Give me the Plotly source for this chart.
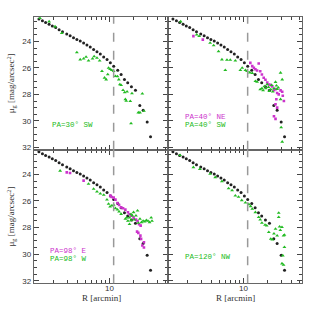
import math
import plotly.graph_objects as go

# ---------------- data (R in arcmin, mu in mag/arcsec^2) ----------------
ref_R = [1.33, 1.47, 1.61, 1.78, 1.95, 2.15, 2.37, 2.61, 2.95, 3.25, 3.58, 3.94, 4.34, 4.78,
         5.26, 5.78, 6.37, 7.01, 7.71, 8.49, 9.35, 10.28, 11.32, 12.7, 14.0, 15.4, 16.9,
         18.8, 21.1, 23.9, 26.3, 29.5, 32.5]
ref_mu = [22.3, 22.45, 22.58, 22.7, 22.83, 22.95, 23.13, 23.27, 23.45, 23.57, 23.73, 23.85,
          23.97, 24.12, 24.27, 24.42, 24.62, 24.78, 24.95, 25.17, 25.37, 25.62, 25.88, 26.18,
          26.5, 26.88, 27.12, 27.42, 27.68, 28.83, 29.2, 30.08, 31.2]

pa30sw_R = [1.37, 1.78, 2.11, 2.56, 3.94, 4.34, 4.78, 5.13, 5.5, 6.17, 6.46, 7.01, 7.57, 8.09,
            8.71, 9.12, 9.55, 9.77, 10.2, 10.7, 11.3, 11.9, 12.6, 13.1, 13.5, 14.0, 14.8, 15.5,
            16.6, 15.8, 16.2, 18.2, 19.1, 18.6, 22.9, 24.0, 25.7, 26.9]
pa30sw_mu = [22.25, 22.5, 22.88, 23.37, 24.83, 25.37, 25.3, 25.17, 25.45, 25.3, 25.13, 25.25,
             25.45, 26.25, 26.75, 26.88, 26.5, 26.0, 26.1, 26.18, 26.25, 26.63, 26.65, 26.88,
             27.25, 27.3, 27.68, 27.85, 27.8, 28.37, 28.5, 28.52, 27.93, 30.2, 29.37, 29.37,
             27.95, 29.25]

pa40sw_R = [1.66, 2.63, 2.82, 3.86, 4.27, 4.91, 5.41, 5.96, 6.25, 6.87, 7.94, 9.17, 9.66, 10.6,
            11.1, 12.0, 12.9, 14.1, 14.8, 16.2, 17.0, 18.2, 19.8, 21.9, 24.0, 25.1, 26.3, 29.0,
            30.4, 29.0, 29.5, 30.4, 17.6, 19.0, 20.5, 22.5, 23.2, 21.0, 25.8, 27.2]
pa40sw_mu = [22.5, 23.5, 23.6, 24.12, 24.3, 24.75, 25.37, 26.18, 25.4, 25.4, 25.45, 26.18, 26.0,
             26.18, 26.25, 26.35, 26.4, 27.0, 27.05, 27.63, 27.55, 27.4, 27.25, 27.63, 27.55,
             27.07, 27.6, 26.37, 26.88, 28.37, 30.5, 31.58, 27.7, 27.55, 27.45, 27.3, 27.8,
             27.75, 27.35, 27.5]

pa40ne_R = [2.39, 3.13, 12.2, 12.9, 13.5, 14.1, 14.8, 15.5, 16.2, 17.0, 17.9, 18.8, 19.8, 20.9,
            21.9, 22.9, 24.0, 25.1, 26.3, 27.5, 29.0, 30.4, 30.9, 31.9, 25.7, 25.1, 26.3, 24.0,
            25.1]
pa40ne_mu = [23.6, 23.87, 25.62, 25.87, 26.0, 26.1, 26.2, 25.67, 26.25, 26.5, 26.75, 26.9, 27.1,
             27.25, 27.3, 27.4, 27.68, 27.6, 27.9, 28.0, 27.7, 27.8, 28.1, 28.5, 28.37, 28.75,
             29.0, 29.65, 29.85]

pa98w_R = [2.44, 5.5, 6.37, 7.01, 7.71, 8.51, 9.33, 9.77, 10.2, 10.7, 11.3, 11.9, 12.6, 13.2,
           14.0, 15.8, 16.4, 17.0, 17.8, 18.6, 19.3, 20.0, 21.4, 22.4, 24.0, 25.1, 26.3, 27.5,
           28.8, 30.2, 31.6, 33.1, 33.9, 22.9, 20.4, 18.6, 17.8]
pa98w_mu = [23.73, 24.72, 25.1, 25.3, 25.45, 25.55, 25.9, 26.22, 26.43, 26.35, 26.3, 26.55,
            26.65, 26.8, 26.98, 27.35, 27.25, 27.5, 27.25, 27.0, 27.1, 26.85, 27.1, 26.73, 27.35,
            27.6, 27.5, 27.55, 27.45, 27.5, 27.6, 27.25, 27.5, 27.65, 27.4, 27.45, 27.75]

pa98e_R = [2.95, 3.24, 4.78, 10.3, 10.7, 11.3, 11.9, 12.6, 13.2, 14.0, 14.8, 15.8, 17.0, 17.8,
           18.8, 20.0, 21.4, 22.4, 23.4, 24.5, 22.1, 22.9, 24.3, 24.8, 25.7, 26.9, 26.9]
pa98e_mu = [23.85, 23.9, 24.47, 25.6, 25.7, 25.75, 25.9, 26.15, 26.3, 26.48, 26.55, 26.65, 26.85,
            27.0, 27.1, 27.25, 27.4, 27.5, 27.75, 27.85, 28.3, 28.4, 28.6, 28.85, 29.35, 29.5,
            29.1]

pa120nw_R = [1.63, 2.39, 2.88, 3.86, 4.47, 5.41, 6.55, 7.24, 7.94, 8.71, 9.55, 10.6, 11.7, 12.3,
             12.9, 14.1, 15.5, 16.2, 17.0, 18.6, 19.5, 20.7, 21.9, 22.9, 24.0, 25.1, 26.3, 27.5,
             28.2, 30.2, 31.6, 32.4, 32.4, 30.9, 30.2, 31.6, 27.5, 28.8]
pa120nw_mu = [22.55, 23.47, 23.6, 23.97, 24.22, 24.52, 25.05, 25.2, 25.6, 25.7, 25.95, 26.12,
              26.25, 26.4, 26.6, 26.85, 27.22, 27.4, 27.65, 27.8, 27.85, 28.35, 28.85, 28.9,
              28.45, 28.1, 28.6, 27.22, 27.93, 27.97, 28.6, 28.55, 29.47, 30.1, 30.7, 30.8,
              26.9, 28.2]

r_break = 11.3
y_ticks = [24, 26, 28, 30, 32]
x_ticks = [10]
x_tick_text = ["10"]
x_minor = [2, 3, 4, 5, 6, 7, 8, 9, 20, 30, 40, 50]

labels = {
    "tl": [("PA=30° SW", "#22bb22")],
    "tr": [("PA=40° NE", "#cc33cc"), ("PA=40° SW", "#22bb22")],
    "bl": [("PA=98° E", "#cc33cc"), ("PA=98° W", "#22bb22")],
    "br": [("PA=120° NW", "#22bb22")],
}

# ---------------- layout geometry ----------------
W = H = 319
xl = [34 / W, 168 / W]
xr = [168 / W, 302 / W]
yt = [1 - 150.7 / H, 1 - 17 / H]
yb = [1 - 285 / H, 1 - 150.7 / H]

GREEN = "#22bb22"
MAG = "#cc33cc"
BLACK = "#222222"

fig = go.Figure()

panels = {
    "tl": ("x3", "y3", [(pa30sw_R, pa30sw_mu, GREEN, "triangle-up")]),
    "tr": ("x4", "y4", [(pa40ne_R, pa40ne_mu, MAG, "square"),
                        (pa40sw_R, pa40sw_mu, GREEN, "triangle-up")]),
    "bl": ("x", "y", [(pa98e_R, pa98e_mu, MAG, "square"),
                      (pa98w_R, pa98w_mu, GREEN, "triangle-up")]),
    "br": ("x2", "y2", [(pa120nw_R, pa120nw_mu, GREEN, "triangle-up")]),
}

for key, (xa, ya, series) in panels.items():
    fig.add_trace(go.Scatter(x=ref_R, y=ref_mu, mode="markers", xaxis=xa, yaxis=ya,
                             marker=dict(color=BLACK, size=3, symbol="circle"),
                             showlegend=False, hoverinfo="skip"))
    for R, mu, col, sym in series:
        fig.add_trace(go.Scatter(x=R, y=mu, mode="markers", xaxis=xa, yaxis=ya,
                                 marker=dict(color=col, size=2.6 if sym == "square" else 3.4,
                                             symbol=sym, line=dict(width=0)),
                                 showlegend=False, hoverinfo="skip"))
    fig.add_shape(type="line", x0=r_break, x1=r_break, y0=0, y1=1,
                  xref=xa, yref=ya + " domain",
                  line=dict(color="#999999", width=1.5, dash="dash"))

common_x = dict(type="log", range=[0.0625, 1.729], tickvals=x_ticks, showticklabels=False,
                ticks="inside", ticklen=5, tickcolor="#444", mirror="allticks",
                showline=True, linecolor="#666", linewidth=1.3, showgrid=False,
                zeroline=False,
                minor=dict(tickvals=x_minor, ticks="inside", ticklen=3, tickcolor="#444"))
common_y = dict(range=[32.18, 22.15], tickvals=y_ticks, ticks="inside", ticklen=5,
                tickcolor="#444", mirror="allticks", showline=True, linecolor="#666",
                linewidth=1.3, showgrid=False, zeroline=False,
                minor=dict(dtick=0.5, ticks="inside", ticklen=3, tickcolor="#444"),
                tickfont=dict(family="Liberation Sans", size=8, color="#333"))

fig.update_layout(
    width=W, height=H, margin=dict(l=0, r=0, t=0, b=0),
    paper_bgcolor="white", plot_bgcolor="white",
    xaxis=dict(common_x, domain=xl, anchor="y"),
    yaxis=dict(common_y, domain=yb, anchor="x"),
    xaxis2=dict(common_x, domain=xr, anchor="y2"),
    yaxis2=dict(common_y, domain=yb, anchor="x2", showticklabels=False),
    xaxis3=dict(common_x, domain=xl, anchor="y3"),
    yaxis3=dict(common_y, domain=yt, anchor="x3"),
    xaxis4=dict(common_x, domain=xr, anchor="y4"),
    yaxis4=dict(common_y, domain=yt, anchor="x4", showticklabels=False),
)

ann = []
# x tick labels (bottom panels) placed just below the axis (log axis -> log10 coords)
for xa in ["x", "x2"]:
    for v, t in zip(x_ticks, x_tick_text):
        ann.append(dict(text=t, x=math.log10(v), y=1 - 290.5 / H, xref=xa, yref="paper",
                        showarrow=False, xanchor="center", yanchor="middle",
                        font=dict(family="Liberation Sans", size=8, color="#333")))
# axis titles
for cx in [(xl[0] + xl[1]) / 2, (xr[0] + xr[1]) / 2]:
    ann.append(dict(text="R [arcmin]", x=cx, y=1 - 299.5 / H, xref="paper", yref="paper",
                    showarrow=False, xanchor="center", yanchor="middle",
                    font=dict(family="Liberation Serif", size=9, color="#333")))
for cy in [(yt[0] + yt[1]) / 2, (yb[0] + yb[1]) / 2]:
    ann.append(dict(text="μ<sub>g</sub> [mag/arcsec<sup>2</sup>]", x=11 / W, y=cy,
                    xref="paper", yref="paper", showarrow=False, textangle=-90,
                    xanchor="center", yanchor="middle",
                    font=dict(family="Liberation Serif", size=9, color="#333")))

label_pos = {"tl": (51, 126), "tr": (184, 118), "bl": (49, 252.5), "br": (184, 259)}
for key, items in labels.items():
    x0, y0 = label_pos[key]
    ys = [y0] if len(items) == 1 else [y0, y0 + 8]
    for (txt, col), yy in zip(items, ys):
        ann.append(dict(text=txt, x=x0 / W, y=1 - yy / H, xref="paper", yref="paper",
                        showarrow=False, xanchor="left", yanchor="middle", borderpad=0,
                        font=dict(family="Liberation Mono", size=7.5, color=col)))
fig.update_layout(annotations=ann)

# remove the browser's default 8px body margin so the figure sits at the page origin
fig.write_html("out.html", config={"displayModeBar": False},
               post_script="document.body.style.margin='0';document.body.style.padding='0';")
